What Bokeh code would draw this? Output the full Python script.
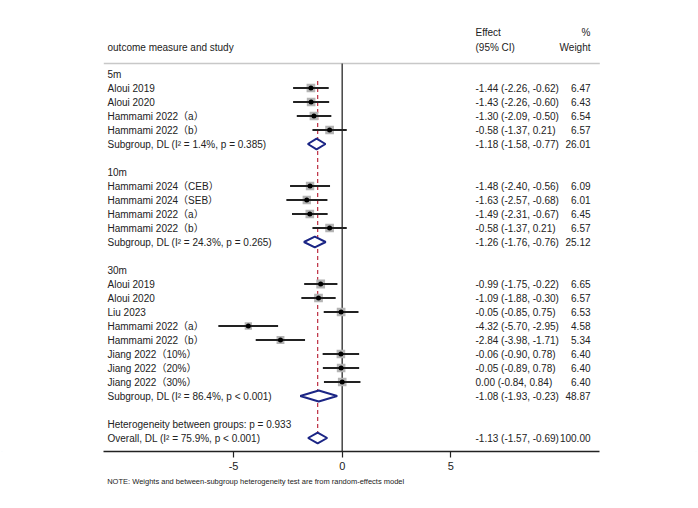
import math
from bokeh.plotting import figure
from bokeh.models import Range1d, FixedTicker, Title, ColumnDataSource
from bokeh.embed import file_html
from bokeh.resources import INLINE
from bokeh.core.properties import value

# ---------------- data ----------------
group_names = ["5m", "10m", "30m"]

studies_5m = ["Aloui 2019", "Aloui 2020", "Hammami 2022（a）", "Hammami 2022（b）"]
est_5m = [-1.44, -1.43, -1.30, -0.58]
lo_5m = [-2.26, -2.26, -2.09, -1.37]
hi_5m = [-0.62, -0.60, -0.50, 0.21]
wt_5m = [6.47, 6.43, 6.54, 6.57]

studies_10m = ["Hammami 2024（CEB）", "Hammami 2024（SEB）", "Hammami 2022（a）", "Hammami 2022（b）"]
est_10m = [-1.48, -1.63, -1.49, -0.58]
lo_10m = [-2.40, -2.57, -2.31, -1.37]
hi_10m = [-0.56, -0.68, -0.67, 0.21]
wt_10m = [6.09, 6.01, 6.45, 6.57]

studies_30m = ["Aloui 2019", "Aloui 2020", "Liu 2023", "Hammami 2022（a）", "Hammami 2022（b）",
               "Jiang 2022（10%）", "Jiang 2022（20%）", "Jiang 2022（30%）"]
est_30m = [-0.99, -1.09, -0.05, -4.32, -2.84, -0.06, -0.05, 0.00]
lo_30m = [-1.75, -1.88, -0.85, -5.70, -3.98, -0.90, -0.89, -0.84]
hi_30m = [-0.22, -0.30, 0.75, -2.95, -1.71, 0.78, 0.78, 0.84]
wt_30m = [6.65, 6.57, 6.53, 4.58, 5.34, 6.40, 6.40, 6.40]

sub_est = [-1.18, -1.26, -1.08]
sub_lo = [-1.58, -1.76, -1.93]
sub_hi = [-0.77, -0.76, -0.23]
sub_wt = [26.01, 25.12, 48.87]
sub_i2 = [1.4, 24.3, 86.4]
sub_p = ["p = 0.385", "p = 0.265", "p < 0.001"]

overall_est, overall_lo, overall_hi, overall_wt = -1.13, -1.57, -0.69, 100.00
overall_i2, overall_p = 75.9, "p < 0.001"
het_p = "0.933"

x_ticks = [-5, 0, 5]
x_tick_labels = {-5: "-5", 0: "0", 5: "5"}
note_text = "NOTE: Weights and between-subgroup heterogeneity test are from random-effects model"

# ---------------- layout constants ----------------
W, H = 698, 508
FRAME_H = 451
PX0, PXU = 341.7, 21.73          # pixel of x=0, pixels per unit
ROW0, ROWH = 73.5, 14.0          # pixel of row 0, pixels per row


def px2x(px):
    return (px - PX0) / PXU


def py2r(py):
    return (py - ROW0) / ROWH


LABEL_X = px2x(107)
EFF_X = px2x(475)
WT_X = px2x(590)
AX_LO, AX_HI = px2x(103.3), px2x(599.3)

TXT = "#222222"
FONT = "'Liberation Sans', Arial, 'Noto Sans CJK SC', sans-serif"
NAVY = "#1b2585"

groups = [
    (studies_5m, est_5m, lo_5m, hi_5m, wt_5m),
    (studies_10m, est_10m, lo_10m, hi_10m, wt_10m),
    (studies_30m, est_30m, lo_30m, hi_30m, wt_30m),
]

# build rows
lab_txt, lab_row = [], []
st_row, st_est, st_lo, st_hi, st_wt = [], [], [], [], []
eff_txt, eff_row, wt_txt = [], [], []
dia_xs, dia_ys = [], []
r = 0
for gi, (names, est, lo, hi, wt) in enumerate(groups):
    lab_txt.append(group_names[gi]); lab_row.append(r)
    r += 1
    for n, e, l, h, w in zip(names, est, lo, hi, wt):
        lab_txt.append(n); lab_row.append(r)
        st_row.append(r); st_est.append(e); st_lo.append(l); st_hi.append(h); st_wt.append(w)
        eff_txt.append(f"{e:.2f} ({l:.2f}, {h:.2f})"); eff_row.append(r); wt_txt.append(f"{w:.2f}")
        r += 1
    lab_txt.append(f"Subgroup, DL (I² = {sub_i2[gi]:.1f}%, {sub_p[gi]})"); lab_row.append(r)
    eff_txt.append(f"{sub_est[gi]:.2f} ({sub_lo[gi]:.2f}, {sub_hi[gi]:.2f})"); eff_row.append(r)
    wt_txt.append(f"{sub_wt[gi]:.2f}")
    dia_xs.append([sub_lo[gi], sub_est[gi], sub_hi[gi], sub_est[gi]])
    dia_ys.append([r, r - 0.39, r, r + 0.39])
    r += 2
lab_txt.append(f"Heterogeneity between groups: p = {het_p}"); lab_row.append(r)
r += 1
overall_row = r
lab_txt.append(f"Overall, DL (I² = {overall_i2:.1f}%, {overall_p})"); lab_row.append(r)
eff_txt.append(f"{overall_est:.2f} ({overall_lo:.2f}, {overall_hi:.2f})"); eff_row.append(r)
wt_txt.append(f"{overall_wt:.2f}")
dia_xs.append([overall_lo, overall_est, overall_hi, overall_est])
dia_ys.append([r, r - 0.39, r, r + 0.39])

# ---------------- figure ----------------
p = figure(width=W, height=H, output_backend="svg", toolbar_location=None,
           x_range=Range1d(px2x(0), px2x(W)),
           y_range=Range1d(py2r(FRAME_H), py2r(0)),
           min_border_left=0, min_border_right=0, min_border_top=0, min_border_bottom=H - FRAME_H,
           y_axis_location=None)
p.xgrid.visible = False
p.ygrid.visible = False
p.outline_line_color = None
p.background_fill_color = "white"
p.border_fill_color = "white"
p.styles = {"outline": "2px solid #eef4f8", "outline-offset": "-3px"}

ax = p.xaxis[0]
ax.ticker = FixedTicker(ticks=x_ticks)
ax.major_label_overrides = x_tick_labels
ax.bounds = (AX_LO, AX_HI)
ax.axis_line_color = "#222222"
ax.axis_line_width = 1.5
ax.major_tick_line_color = "#222222"
ax.major_tick_line_width = 1.2
ax.major_tick_out = 6
ax.major_tick_in = 0
ax.minor_tick_line_color = None
ax.major_label_standoff = 4
ax.major_label_text_font = FONT
ax.major_label_text_font_size = "11px"
ax.major_label_text_color = TXT

# header line
p.segment(x0=[AX_LO], x1=[AX_HI], y0=[py2r(63)], y1=[py2r(63)], line_color="#c8c8c8", line_width=1.5)
# zero line
p.segment(x0=[0], x1=[0], y0=[py2r(63)], y1=[py2r(FRAME_H)], line_color="#444444", line_width=1.5)
# overall effect dashed line
p.segment(x0=[overall_est], x1=[overall_est], y0=[0.5], y1=[overall_row - 0.39],
          line_color="#c03a4c", line_width=1.3, line_dash="4 3")

# studies
src = ColumnDataSource(dict(row=st_row, est=st_est, lo=st_lo, hi=st_hi,
                            size=[3.4 * math.sqrt(w) for w in st_wt]))
p.scatter(x="est", y="row", size="size", marker="square", source=src,
          fill_color="#b4b4b4", line_color=None)
p.segment(x0="lo", x1="hi", y0="row", y1="row", source=src, line_color="#222222", line_width=1.8)
p.scatter(x="est", y="row", size=5, marker="circle", source=src, fill_color="black", line_color=None)

# diamonds
p.patches(xs=dia_xs, ys=dia_ys, fill_color="white", line_color=NAVY, line_width=2)

# texts
p.text(x=[LABEL_X] * len(lab_row), y=lab_row, text=lab_txt, text_font=value(FONT),
       text_font_size="10px", text_baseline="middle", text_align="left", text_color=TXT)
p.text(x=[EFF_X] * len(eff_row), y=eff_row, text=eff_txt, text_font=value(FONT),
       text_font_size="10px", text_baseline="middle", text_align="left", text_color=TXT)
p.text(x=[WT_X] * len(eff_row), y=eff_row, text=wt_txt, text_font=value(FONT),
       text_font_size="10px", text_baseline="middle", text_align="right", text_color=TXT)

# header texts
p.text(x=[LABEL_X, EFF_X, EFF_X], y=[py2r(46.7), py2r(31.7), py2r(46.7)],
       text=["outcome measure and study", "Effect", "(95% CI)"], text_font=value(FONT),
       text_font_size="10px", text_baseline="middle", text_align="left", text_color=TXT)
p.text(x=[WT_X, WT_X], y=[py2r(31.7), py2r(46.7)], text=["%", "Weight"], text_font=value(FONT),
       text_font_size="10px", text_baseline="middle", text_align="right", text_color=TXT)

p.add_layout(Title(text=note_text, align="left", offset=106.7, standoff=5,
                   text_font=FONT, text_font_size="7.5px", text_font_style="normal",
                   text_color=TXT), "below")

open("out.html", "w").write(file_html(p, INLINE))
